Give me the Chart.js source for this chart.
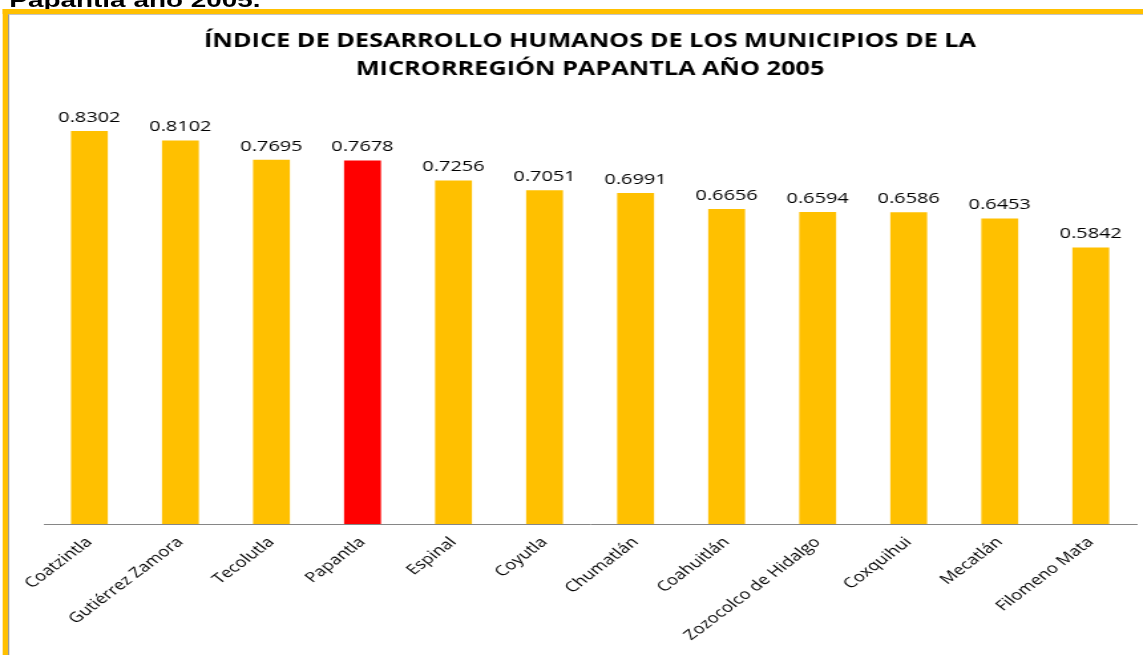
<!DOCTYPE html>
<html>
<head>
<meta charset="utf-8">
<script src="https://cdn.jsdelivr.net/npm/chart.js@4/dist/chart.umd.min.js"></script>
<style>
  html, body { margin: 0; padding: 0; background: #fff; overflow: hidden; }
  /* the reference is a horizontally stretched screenshot, so draw at 860px and stretch */
  #wrap {
    position: absolute; left: 0; top: 0; width: 860px; height: 655px;
    transform: scaleX(1.329); transform-origin: 0 0;
  }
  #caption {
    position: absolute; left: 7px; top: -12px;
    font: bold 21px "Liberation Sans", Arial, sans-serif; color: #000; white-space: nowrap;
  }
  #frame {
    position: absolute; left: 2px; top: 9px; right: -10px; bottom: -10px;
    border-left: 4.5px solid #FFC000; border-top: 5px solid #FFC000;
  }
  #frame .inner {
    position: absolute; left: 0; top: 0; right: 0; bottom: 0;
    border-left: 1px solid #9a9a9a; border-top: 1px solid #c4c4c4;
  }
  #chart { position: absolute; left: 0; top: 0; }
</style>
</head>
<body>
<div id="wrap">
  <div id="caption">Papantla año 2005.</div>
  <div id="frame"><div class="inner"></div></div>
  <canvas id="chart" width="860" height="655"></canvas>
</div>
<script>
const municipios = ['Coatzintla', 'Gutiérrez Zamora', 'Tecolutla', 'Papantla', 'Espinal', 'Coyutla',
  'Chumatlán', 'Coahuitlán', 'Zozocolco de Hidalgo', 'Coxquihui', 'Mecatlán', 'Filomeno Mata'];
const idh = [0.8302, 0.8102, 0.7695, 0.7678, 0.7256, 0.7051, 0.6991, 0.6656, 0.6594, 0.6586, 0.6453, 0.5842];
const highlighted = 'Papantla';
const titleLines = ['ÍNDICE DE DESARROLLO HUMANOS DE LOS MUNICIPIOS DE LA', 'MICRORREGIÓN PAPANTLA AÑO 2005'];

const barColors = municipios.map(m => m === highlighted ? '#FF0000' : '#FFC000');

// value labels above each bar
const valueLabels = {
    id: 'valueLabels',
    afterDatasetsDraw(chart) {
        const { ctx } = chart;
        const meta = chart.getDatasetMeta(0);
        ctx.save();
        ctx.font = '15px "Open Sans"';
        ctx.fillStyle = '#000';
        ctx.textAlign = 'center';
        ctx.textBaseline = 'bottom';
        meta.data.forEach((bar, i) => {
            ctx.fillText(idh[i].toFixed(4), bar.x, bar.y - 6);
        });
        ctx.restore();
    }
};

new Chart(document.getElementById('chart'), {
    type: 'bar',
    data: {
        labels: municipios,
        datasets: [{
            data: idh,
            backgroundColor: barColors,
            borderWidth: 0,
            barPercentage: 0.405,
            categoryPercentage: 1
        }]
    },
    options: {
        responsive: false,
        animation: false,
        devicePixelRatio: 1,
        layout: { padding: { left: 33, right: 5, top: 0, bottom: 0 } },
        plugins: {
            legend: { display: false },
            tooltip: { enabled: false },
            title: {
                display: true,
                text: titleLines,
                color: '#000',
                font: { family: 'Open Sans', size: 19, weight: 'bold', lineHeight: 1.474 },
                padding: { top: 28, bottom: 14 }
            }
        },
        scales: {
            x: {
                grid: { display: false, drawTicks: false },
                border: { display: true, color: '#868686', width: 1 },
                ticks: {
                    color: '#000',
                    font: { family: 'Open Sans', size: 14 },
                    minRotation: 45,
                    maxRotation: 45,
                    padding: 10,
                    autoSkip: false
                },
                afterFit(scale) { scale.height = 131; }
            },
            y: {
                display: false,
                min: 0,
                max: 0.9
            }
        }
    },
    plugins: [valueLabels]
});
</script>
</body>
</html>
